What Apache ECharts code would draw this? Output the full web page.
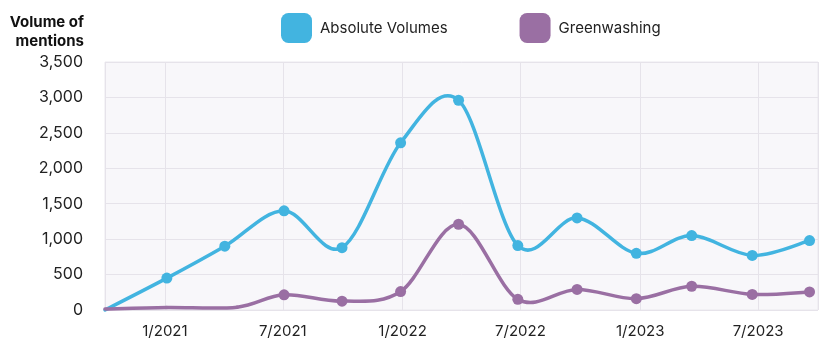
<!DOCTYPE html>
<html>
<head>
<meta charset="utf-8">
<script src="https://cdn.jsdelivr.net/npm/echarts@6/dist/echarts.min.js"></script>
<style>
  html, body {margin: 0; padding: 0; background: #fff;}
  #chart {width: 832px; height: 360px;}
</style>
</head>
<body>
<div id="chart"></div>
<script>
// data
const seriesNames = ['Absolute Volumes', 'Greenwashing']
const yTicks = [0, 500, 1000, 1500, 2000, 2500, 3000, 3500]

const volumeDates = ['2020-10-01', '2021-01-04', '2021-04-03', '2021-07-03', '2021-09-30', '2021-12-29',
  '2022-03-28', '2022-06-27', '2022-09-26', '2022-12-26', '2023-03-21', '2023-06-22', '2023-09-18']
const volumeValues = [0, 450, 900, 1400, 880, 2360, 2960, 910, 1300, 800, 1050, 770, 980]
const volumeMarked = [false, true, true, true, true, true, true, true, true, true, true, true, true]

const greenDates = ['2020-10-01', '2021-01-04', '2021-04-22', '2021-07-03', '2021-09-30', '2021-12-29',
  '2022-03-28', '2022-06-27', '2022-09-26', '2022-12-26', '2023-03-21', '2023-06-22', '2023-09-18']
const greenValues = [15, 35, 40, 215, 125, 260, 1210, 150, 290, 160, 335, 220, 255]
const greenMarked = [false, false, false, true, true, true, true, true, true, true, true, true, true]

const blue = '#42b4e0'
const purple = '#9a6fa3'
const font = 'Inter, "Noto Sans", sans-serif'

function toTime (s) {
  const p = s.split('-').map(Number)
  return new Date(p[0], p[1] - 1, p[2]).getTime()
}

function markerData (dates, values, marked) {
  return dates.map((d, i) => {
    const item = {value: [toTime(d), values[i]]}
    if (!marked[i]) item.symbol = 'none'
    return item
  })
}

// catmull-rom curve through the points, one bezier per segment
function curveSeries (name, dates, values, color) {
  const times = dates.map(toTime)
  return {
    name: name,
    type: 'custom',
    z: 2,
    encode: {x: 0, y: 1},
    data: times.map((t, i) => [t, values[i]]),
    renderItem: function (params, api) {
      const i = params.dataIndex
      const n = times.length
      if (i >= n - 1) return
      const pt = k => {
        k = Math.max(0, Math.min(n - 1, k))
        return api.coord([times[k], values[k]])
      }
      const p0 = pt(i - 1)
      const p1 = pt(i)
      const p2 = pt(i + 1)
      const p3 = pt(i + 2)
      return {
        type: 'bezierCurve',
        shape: {
          x1: p1[0],
          y1: p1[1],
          x2: p2[0],
          y2: p2[1],
          cpx1: p1[0] + (p2[0] - p0[0]) / 6,
          cpy1: p1[1] + (p2[1] - p0[1]) / 6,
          cpx2: p2[0] - (p3[0] - p1[0]) / 6,
          cpy2: p2[1] - (p3[1] - p1[1]) / 6
        },
        style: {
          stroke: color,
          lineWidth: 3.5,
          fill: null,
          lineCap: 'round'
        }
      }
    }
  }
}

const chart = echarts.init(document.getElementById('chart'))

chart.setOption({
  animation: false,
  color: [blue, purple],
  graphic: [
    {
      type: 'text',
      x: 84,
      y: 13,
      style: {
        text: 'Volume of\nmentions',
        align: 'right',
        font: 'bold 15px ' + font,
        lineHeight: 19,
        fill: '#111'
      }
    }
  ],
  legend: {
    top: 8,
    left: 276,
    icon: 'roundRect',
    itemWidth: 31,
    itemHeight: 30,
    itemGap: 72,
    textStyle: {
      fontFamily: font,
      fontSize: 15,
      color: '#222',
      padding: [0, 0, 0, 3]
    },
    data: seriesNames
  },
  grid: {
    left: 105,
    right: 14,
    top: 62,
    bottom: 50,
    show: true,
    backgroundColor: '#f8f7fa',
    borderColor: '#ebe9ee',
    borderWidth: 1
  },
  xAxis: {
    type: 'time',
    min: toTime('2020-10-01'),
    max: toTime('2023-10-01'),
    minInterval: 3600 * 24 * 1000 * 180,
    maxInterval: 3600 * 24 * 1000 * 185,
    axisLine: {show: false},
    axisTick: {show: false},
    splitLine: {show: true, lineStyle: {color: '#e6e3ea', width: 1}},
    axisLabel: {
      margin: 14,
      showMinLabel: false,
      showMaxLabel: false,
      fontFamily: font,
      fontSize: 15,
      color: '#222',
      formatter: function (value) {
        const d = new Date(value)
        return (d.getMonth() + 1) + '/' + d.getFullYear()
      }
    }
  },
  yAxis: {
    type: 'value',
    min: yTicks[0],
    max: yTicks[yTicks.length - 1],
    interval: yTicks[1] - yTicks[0],
    axisLine: {show: false},
    axisTick: {show: false},
    splitLine: {lineStyle: {color: '#e6e3ea', width: 1}},
    axisLabel: {
      margin: 22,
      fontFamily: font,
      fontSize: 16,
      color: '#222',
      formatter: function (value) {
        return value.toLocaleString('en-US')
      }
    }
  },
  series: [
    {
      name: seriesNames[0],
      type: 'line',
      z: 3,
      symbol: 'circle',
      symbolSize: 11,
      lineStyle: {width: 0, color: blue},
      itemStyle: {color: blue},
      data: markerData(volumeDates, volumeValues, volumeMarked)
    },
    {
      name: seriesNames[1],
      type: 'line',
      z: 3,
      symbol: 'circle',
      symbolSize: 11,
      lineStyle: {width: 0, color: purple},
      itemStyle: {color: purple},
      data: markerData(greenDates, greenValues, greenMarked)
    },
    curveSeries('volumeCurve', volumeDates, volumeValues, blue),
    curveSeries('greenCurve', greenDates, greenValues, purple)
  ]
})
</script>
</body>
</html>
